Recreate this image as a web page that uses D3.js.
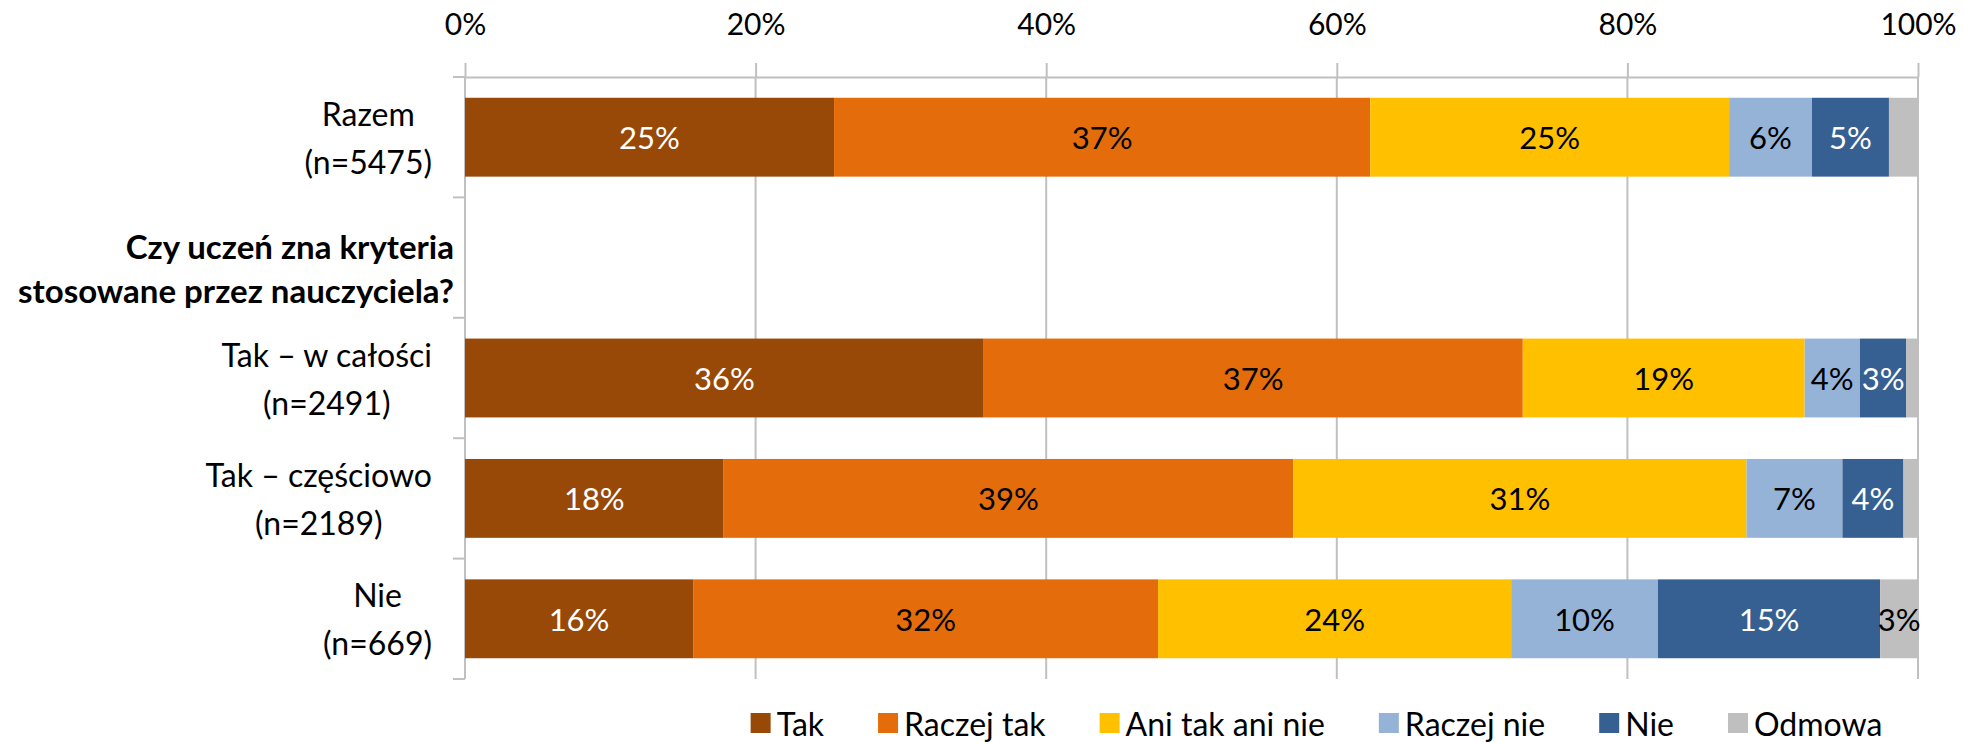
<!DOCTYPE html>
<html>
<head>
<meta charset="utf-8">
<script src="https://cdn.jsdelivr.net/npm/d3@7"></script>
<style>
  body { margin: 0; background: #fff; }
  svg text { font-family: Lato, "Open Sans", sans-serif; fill: #000; }
</style>
</head>
<body>
<div id="chart"></div>
<script>
// ── Data ─────────────────────────────────────────────────────
// category labels, one list of lines per row
const categories = [
  ["Razem", "(n=5475)"],
  ["Czy uczeń zna kryteria", "stosowane przez nauczyciela?"],
  ["Tak – w całości", "(n=2491)"],
  ["Tak – częściowo", "(n=2189)"],
  ["Nie", "(n=669)"]
];
const headerRow = 1;   // row with the bold question, no bar

const seriesNames = ["Tak", "Raczej tak", "Ani tak ani nie", "Raczej nie", "Nie", "Odmowa"];

// shares in %, per category (null = no bar)
const valTak       = [25.4, null, 35.7, 17.8, 15.7];
const valRaczejTak = [36.9, null, 37.1, 39.2, 32.0];
const valAni       = [24.7, null, 19.4, 31.2, 24.3];
const valRaczejNie = [5.7,  null, 3.8,  6.6,  10.1];
const valNie       = [5.3,  null, 3.2,  4.2,  15.3];
const valOdmowa    = [2.0,  null, 0.8,  1.0,  2.6];

const xTicks = [0, 20, 40, 60, 80, 100];

// ── Styles ───────────────────────────────────────────────────
const colors      = ["#984807", "#E46C0A", "#FFC000", "#95B3D7", "#376092", "#BFBFBF"];
const labelColors = ["#fff", "#000", "#000", "#000", "#fff", "#000"];
const gridColor   = "#C0C0C0";

// ── Layout ───────────────────────────────────────────────────
const W = 1964, H = 742;
const plot = { left: 465, right: 1918, top: 77, bottom: 679 };

const svg = d3.select("#chart").append("svg")
  .attr("width", W).attr("height", H)
  .style("font-size", "31px");

const x = d3.scaleLinear().domain([0, 100]).range([plot.left, plot.right]);
const y = d3.scaleBand()
  .domain(d3.range(categories.length))
  .range([plot.top, plot.bottom])
  .paddingInner(0.345)
  .paddingOuter(0.1725);

// table for the stack
const allVals = [valTak, valRaczejTak, valAni, valRaczejNie, valNie, valOdmowa];
const rows = categories.map((c, i) => {
  const r = { idx: i };
  seriesNames.forEach((s, k) => r[s] = allVals[k][i]);
  return r;
}).filter(r => r.Tak != null);

const stacked = d3.stack().keys(seriesNames)(rows);

// ── Grid lines ───────────────────────────────────────────────
svg.append("g").selectAll("line")
  .data(xTicks)
  .join("line")
    .attr("x1", d => x(d)).attr("x2", d => x(d))
    .attr("y1", plot.top).attr("y2", plot.bottom)
    .attr("stroke", gridColor).attr("stroke-width", 2);

// ── Top value axis ───────────────────────────────────────────
const xAxis = d3.axisTop(x)
  .tickValues(xTicks)
  .tickFormat(d => d + "%")
  .tickSize(14)
  .tickSizeOuter(0)
  .tickPadding(28);

const gx = svg.append("g")
  .attr("transform", `translate(0,${plot.top})`)
  .call(xAxis)
  .attr("font-family", null)
  .attr("font-size", 30);
gx.selectAll("path, line").attr("stroke", gridColor).attr("stroke-width", 2);
gx.selectAll("text").attr("fill", "#000");

// ── Category ticks (at band boundaries) ──────────────────────
const step = y.step();
const bounds = d3.range(categories.length + 1).map(i => plot.top + i * step);
svg.append("g").selectAll("line")
  .data(bounds)
  .join("line")
    .attr("x1", plot.left - 12).attr("x2", plot.left)
    .attr("y1", d => d).attr("y2", d => d)
    .attr("stroke", gridColor).attr("stroke-width", 2);

// ── Bars ─────────────────────────────────────────────────────
const bw = y.bandwidth();
const layers = svg.append("g").selectAll("g")
  .data(stacked)
  .join("g")
    .attr("fill", (d, k) => colors[k]);

layers.selectAll("rect")
  .data(d => d)
  .join("rect")
    .attr("x", d => x(d[0]))
    .attr("width", d => x(d[1]) - x(d[0]))
    .attr("y", d => y(d.data.idx))
    .attr("height", bw);

// data labels
stacked.forEach((layer, k) => {
  svg.append("g").selectAll("text")
    .data(layer.filter(d => d[1] - d[0] >= 2.5))
    .join("text")
      .attr("x", d => (x(d[0]) + x(d[1])) / 2)
      .attr("y", d => y(d.data.idx) + bw / 2)
      .attr("text-anchor", "middle")
      .attr("dominant-baseline", "central")
      .style("fill", labelColors[k])
      .text(d => Math.round(d[1] - d[0]) + "%");
});

// ── Category labels ──────────────────────────────────────────
const lineGap = 48;
categories.forEach((lines, i) => {
  const cy = y(i) + bw / 2;
  const g = svg.append("g");
  if (i === headerRow) {
    lines.forEach((t, j) => {
      g.append("text")
        .attr("x", plot.left - 11)
        .attr("y", cy - 12 + j * 44)
        .attr("text-anchor", "end")
        .attr("dominant-baseline", "central")
        .attr("font-weight", "bold")
        .attr("font-size", 33)
        .text(t);
    });
  } else {
    const texts = lines.map((t, j) => g.append("text")
      .attr("y", cy + (j - (lines.length - 1) / 2) * lineGap)
      .attr("text-anchor", "middle")
      .attr("dominant-baseline", "central")
      .attr("font-size", 32)
      .text(t));
    const maxW = d3.max(texts, t => t.node().getComputedTextLength());
    texts.forEach(t => t.attr("x", plot.left - 33 - maxW / 2));
  }
});

// ── Legend ───────────────────────────────────────────────────
const legendY = 723, sw = 20, swGap = 6, itemGap = 54;
const lg = svg.append("g").attr("font-size", 32);
const items = seriesNames.map((s, k) => {
  const it = lg.append("g");
  it.append("rect")
    .attr("y", legendY - sw / 2).attr("width", sw).attr("height", sw)
    .attr("fill", colors[k]);
  const t = it.append("text")
    .attr("x", sw + swGap).attr("y", legendY)
    .attr("dominant-baseline", "central")
    .text(s);
  return { it, w: sw + swGap + t.node().getComputedTextLength() };
});
const totalW = d3.sum(items, d => d.w) + itemGap * (items.length - 1);
let cx = (750 + 1883) / 2 - totalW / 2;
items.forEach(d => {
  d.it.attr("transform", `translate(${cx},0)`);
  cx += d.w + itemGap;
});
</script>
</body>
</html>
